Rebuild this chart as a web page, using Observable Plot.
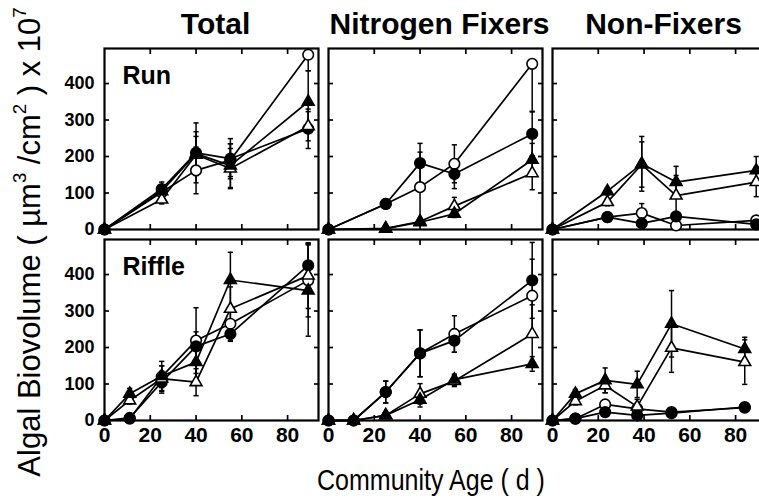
<!DOCTYPE html>
<html><head><meta charset="utf-8">
<script src="https://cdn.jsdelivr.net/npm/d3@7"></script>
<script src="https://cdn.jsdelivr.net/npm/@observablehq/plot@0.6"></script>
<style>
html,body{margin:0;padding:0;background:#fff;overflow:hidden}
#wrap{position:relative;width:759px;height:502px;overflow:hidden;background:#fff}
#wrap svg{position:absolute;left:0;top:0;max-width:none !important}
.lab{position:absolute;white-space:nowrap;color:#000;font-family:'Liberation Sans',Arial,Helvetica,sans-serif;line-height:1}
.ylab{left:29px;top:242px;transform:translate(-50%,-50%) rotate(-90deg);font-size:31px}
.xlab{left:431px;top:480px;transform:translate(-50%,-50%) scaleY(1.15);font-size:25px}
.lab sup{font-size:0.6em;vertical-align:0.75em;line-height:0}
</style></head>
<body><div id="wrap"></div>
<script>
// ---- categories ----
const columns = ["Total", "Nitrogen Fixers", "Non-Fixers"];
const rows = ["Run", "Riffle"];
const seriesKeys = ["openCircle", "filledCircle", "openTriangle", "filledTriangle"];

// ---- tick labels ----
const xTicks = [0, 20, 40, 60, 80];
const yTicks = [0, 100, 200, 300, 400];

// ---- sampling days (community age, d) ----
const runDays = [0, 25, 40, 55, 89];
const riffleDays = [0, 11, 25, 40, 55, 89];
const nonFixRunDays = [0, 24, 39, 54, 89];
const nonFixRiffleDays = [0, 10, 23, 37, 52, 84];

// ---- means and error bars (rows: openCircle, filledCircle, openTriangle, filledTriangle) ----
const totalRunMean = [
  [0, 102, 162, 190, 479],
  [0, 111, 210, 194, 276],
  [0, 82, 205, 167, 283],
  [0, 105, 208, 175, 350]];
const totalRunErr = [
  [0, 15, 64, 45, 44],
  [0, 19, 82, 55, 54],
  [0, 12, 50, 55, 40],
  [0, 15, 60, 60, 85]];

const nfixRunMean = [
  [0, 70, 116, 180, 454],
  [0, 70, 182, 152, 262],
  [0, 3, 22, 64, 154],
  [0, 2, 20, 43, 191]];
const nfixRunErr = [
  [0, 5, 96, 52, 130],
  [0, 5, 54, 40, 60],
  [0, 2, 8, 24, 45],
  [0, 2, 8, 10, 45]];

const nonfixRunMean = [
  [0, 34, 45, 11, 25],
  [0, 34, 17, 36, 14],
  [0, 75, 178, 93, 130],
  [0, 105, 180, 130, 162]];
const nonfixRunErr = [
  [0, 5, 26, 5, 5],
  [0, 5, 8, 10, 5],
  [0, 10, 62, 55, 40],
  [0, 10, 75, 43, 38]];

const totalRiffleMean = [
  [0, 5, 120, 219, 265, 384],
  [0, 7, 105, 203, 237, 425],
  [0, 55, 115, 105, 306, 397],
  [0, 73, 122, 160, 385, 356]];
const totalRiffleErr = [
  [0, 3, 30, 90, 45, 100],
  [0, 3, 30, 40, 20, 60],
  [0, 10, 35, 37, 60, 90],
  [0, 15, 40, 55, 76, 125]];

const nfixRiffleMean = [
  [0, 0, 78, 184, 237, 342],
  [0, 0, 78, 184, 219, 384],
  [0, 0, 14, 73, 108, 237],
  [0, 0, 14, 57, 112, 155]];
const nfixRiffleErr = [
  [0, 0, 30, 64, 50, 100],
  [0, 0, 30, 64, 32, 104],
  [0, 0, 5, 28, 15, 80],
  [0, 0, 5, 20, 15, 20]];

const nonfixRiffleMean = [
  [0, 5, 44, 32, 23, 35],
  [0, 5, 23, 14, 20, 37],
  [0, 53, 96, 38, 199, 160],
  [0, 73, 110, 99, 265, 196]];
const nonfixRiffleErr = [
  [0, 2, 8, 8, 5, 5],
  [0, 2, 8, 5, 5, 5],
  [0, 10, 20, 20, 67, 61],
  [0, 12, 34, 36, 91, 32]];

// error bars drawn on the lower side only (column, row, series, day)
const lowerOnlyBars = [
  ["Total", "Run", "openCircle", 89],
  ["Nitrogen Fixers", "Run", "openCircle", 89]
];

// ---- build the long table ----
const panels = [
  {col: "Total", row: "Run", days: runDays, mean: totalRunMean, err: totalRunErr},
  {col: "Nitrogen Fixers", row: "Run", days: runDays, mean: nfixRunMean, err: nfixRunErr},
  {col: "Non-Fixers", row: "Run", days: nonFixRunDays, mean: nonfixRunMean, err: nonfixRunErr},
  {col: "Total", row: "Riffle", days: riffleDays, mean: totalRiffleMean, err: totalRiffleErr},
  {col: "Nitrogen Fixers", row: "Riffle", days: riffleDays, mean: nfixRiffleMean, err: nfixRiffleErr},
  {col: "Non-Fixers", row: "Riffle", days: nonFixRiffleDays, mean: nonfixRiffleMean, err: nonfixRiffleErr}
];
const table = [];
for (const p of panels) {
  seriesKeys.forEach((s, i) => {
    p.days.forEach((d, j) => {
      const lowerOnly = lowerOnlyBars.some(b => b[0] === p.col && b[1] === p.row && b[2] === s && b[3] === d);
      table.push({col: p.col, row: p.row, series: s, day: d, v: p.mean[i][j], e: p.err[i][j], lowerOnly});
    });
  });
}
const withErr = table.filter(d => d.e > 0);
const lo = d => Math.max(0, d.v - d.e);
const hi = d => d.lowerOnly ? d.v : d.v + d.e;

const cap = {draw(ctx, size) { const w = Math.sqrt(size / Math.PI); ctx.moveTo(-w, 0); ctx.lineTo(w, 0); }};
const F = {fx: "col", fy: "row"};
const font = "'Liberation Sans',Arial,Helvetica,sans-serif";

const seriesStyle = {
  openCircle: {symbol: "circle", fill: "white", r: 5.3},
  filledCircle: {symbol: "circle", fill: "black", r: 5.3},
  openTriangle: {symbol: "triangle", fill: "white", r: 4.4},
  filledTriangle: {symbol: "triangle", fill: "black", r: 4.4}
};

const tickOnly = {tickFormat: () => "", facetAnchor: null, label: null, tickSize: -5, strokeWidth: 1.7};

const chart = Plot.plot({
  width: 768,
  height: 502,
  marginLeft: 103,
  marginRight: 0,
  marginTop: 48,
  marginBottom: 82,
  style: {fontFamily: font, color: "black", background: "white", overflow: "visible", maxWidth: "none"},
  fx: {domain: columns, paddingInner: 0.0444, paddingOuter: 0},
  fy: {domain: rows, paddingInner: 0.0524, paddingOuter: 0, axis: null},
  x: {domain: [0, 93.5]},
  y: {domain: [0, 496]},
  marks: [
    Plot.axisFx({anchor: "top", label: null, tickSize: 0, tickPadding: 15, dx: 4, fontSize: 30, fontWeight: "bold"}),
    Plot.axisY({anchor: "left", ticks: yTicks, tickSize: 0, tickPadding: 10, fontSize: 18, fontWeight: "bold", label: null}),
    Plot.axisX({anchor: "bottom", ticks: xTicks, tickSize: 0, tickPadding: 7, fontSize: 21, fontWeight: "bold", label: null}),
    Plot.axisY({anchor: "left", ticks: yTicks.slice(1), ...tickOnly}),
    Plot.axisY({anchor: "right", ticks: yTicks.slice(1), ...tickOnly}),
    Plot.axisX({anchor: "top", ticks: xTicks.slice(1), ...tickOnly}),
    Plot.axisX({anchor: "bottom", ticks: xTicks.slice(1), ...tickOnly}),
    Plot.frame({stroke: "black", strokeWidth: 2.2}),
    Plot.text(rows.map(r => ({row: r, col: "Total", label: r})), {
      ...F, text: "label", frameAnchor: "top-left", dx: 18, dy: 18,
      textAnchor: "start", lineAnchor: "top", fontSize: 25, fontWeight: "bold"}),
    Plot.ruleX(withErr, {...F, x: "day", y1: lo, y2: hi, stroke: "black", strokeWidth: 1.5}),
    Plot.dot(withErr.filter(d => !d.lowerOnly), {...F, x: "day", y: hi, symbol: cap, r: 2.6, stroke: "black", fill: "none", strokeWidth: 1.5}),
    Plot.dot(withErr.filter(d => d.v - d.e > 0), {...F, x: "day", y: lo, symbol: cap, r: 2.6, stroke: "black", fill: "none", strokeWidth: 1.5}),
    Plot.line(table, {...F, x: "day", y: "v", z: "series", stroke: "black", strokeWidth: 1.7}),
    ...seriesKeys.map(s => Plot.dot(table.filter(d => d.series === s), {
      ...F, x: "day", y: "v", symbol: seriesStyle[s].symbol, r: seriesStyle[s].r,
      fill: seriesStyle[s].fill, stroke: "black", strokeWidth: 1.6}))
  ]
});

const wrap = document.getElementById("wrap");
wrap.appendChild(chart);
const ylab = document.createElement("div");
ylab.className = "lab ylab";
ylab.innerHTML = "Algal Biovolume ( µm<sup>3</sup> /cm<sup>2</sup> ) x 10<sup>7</sup>";
wrap.appendChild(ylab);
const xlab = document.createElement("div");
xlab.className = "lab xlab";
xlab.textContent = "Community Age ( d )";
wrap.appendChild(xlab);
</script>
</body></html>
